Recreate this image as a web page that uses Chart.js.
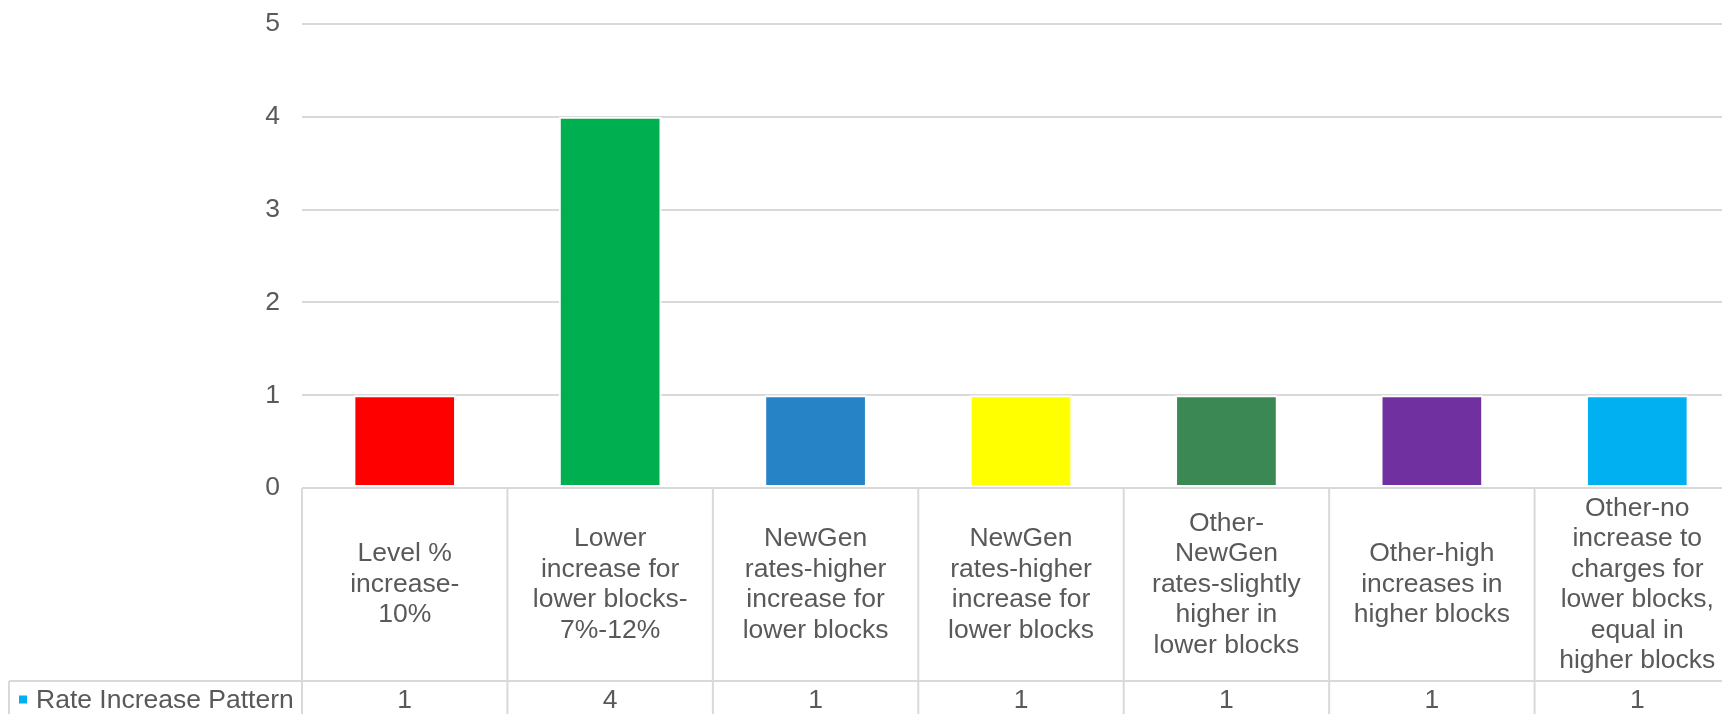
<!DOCTYPE html>
<html>
<head>
<meta charset="utf-8">
<script src="https://cdn.jsdelivr.net/npm/chart.js@4/dist/chart.umd.min.js"></script>
<style>
  html, body { margin: 0; padding: 0; background: #ffffff; overflow: hidden; }
  #wrap { width: 1722px; height: 714px; overflow: hidden; }
  #c { display: block; }
</style>
</head>
<body>
<div id="wrap"><canvas id="c" width="1740" height="714"></canvas></div>
<script>
// Category labels, already broken into the lines shown in each table cell
const categories = [
  ["Level %", "increase-", "10%"],
  ["Lower", "increase for", "lower blocks-", "7%-12%"],
  ["NewGen", "rates-higher", "increase for", "lower blocks"],
  ["NewGen", "rates-higher", "increase for", "lower blocks"],
  ["Other-", "NewGen", "rates-slightly", "higher in", "lower blocks"],
  ["Other-high", "increases in", "higher blocks"],
  ["Other-no", "increase to", "charges for", "lower blocks,", "equal in", "higher blocks"]
];
const seriesName = "Rate Increase Pattern";
const values = [1, 4, 1, 1, 1, 1, 1];
const barColors = ["#FF0000", "#00B050", "#2583C6", "#FFFF00", "#3C8854", "#7030A0", "#00B0F0"];
const legendColor = "#00B0F0";
const yTicks = [0, 1, 2, 3, 4, 5];

const FONT = "'Liberation Sans', Arial, sans-serif";
const TEXT = "#595959";
const LINE = "#D9D9D9";
const FS = 26.5;
const LH = 30.5;

// Data table drawn under the plot, aligned to the category scale
const dataTable = {
  id: "dataTable",
  afterDraw(chart) {
    const ctx = chart.ctx;
    const x = chart.scales.x;
    const area = chart.chartArea;
    const n = categories.length;
    const step = (area.right - area.left) / n;
    const top = area.bottom;
    const rowTop = 681;
    const bottom = chart.height;
    const legendLeft = 9;

    ctx.save();
    ctx.strokeStyle = LINE;
    ctx.lineWidth = 2;
    ctx.beginPath();
    ctx.moveTo(area.left, top); ctx.lineTo(area.right, top);
    ctx.moveTo(legendLeft, rowTop); ctx.lineTo(area.right, rowTop);
    ctx.moveTo(legendLeft, rowTop); ctx.lineTo(legendLeft, bottom);
    for (let i = 0; i <= n; i++) {
      const bx = x.getPixelForValue(i) - step / 2;
      ctx.moveTo(bx, top); ctx.lineTo(bx, bottom);
    }
    ctx.stroke();

    ctx.fillStyle = TEXT;
    ctx.font = FS + "px " + FONT;
    ctx.textAlign = "center";
    ctx.textBaseline = "middle";
    const cellMid = (top + rowTop) / 2;
    const rowMid = (rowTop + bottom) / 2 + 3;
    categories.forEach((lines, i) => {
      const cx = x.getPixelForValue(i);
      const y0 = cellMid - (lines.length - 1) * LH / 2;
      lines.forEach((t, k) => ctx.fillText(t, cx, y0 + k * LH));
      ctx.fillText(String(values[i]), cx, rowMid);
    });

    // series key in the first column of the value row
    ctx.fillStyle = legendColor;
    ctx.fillRect(19, rowMid - 5, 8, 8);
    ctx.fillStyle = TEXT;
    ctx.textAlign = "left";
    ctx.fillText(seriesName, 36, rowMid);
    ctx.restore();
  }
};

new Chart(document.getElementById("c"), {
  type: "bar",
  data: {
    labels: categories.map(l => l.join(" ")),
    datasets: [{
      label: seriesName,
      data: values,
      backgroundColor: barColors,
      borderColor: "#FFFFFF",
      borderWidth: 2,
      borderSkipped: false,
      barPercentage: 1,
      categoryPercentage: 0.5
    }]
  },
  options: {
    responsive: false,
    animation: false,
    layout: { padding: { top: 24, right: 0, bottom: 226, left: 0 } },
    plugins: { legend: { display: false }, tooltip: { enabled: false } },
    scales: {
      x: { display: false },
      y: {
        min: 0, max: 5,
        afterBuildTicks(scale) { scale.ticks = yTicks.map(v => ({ value: v })); },
        afterFit(scale) { scale.width = 302; },
        border: { display: false },
        grid: { color: LINE, lineWidth: 2, drawTicks: true, tickLength: 22, tickColor: "rgba(0,0,0,0)" },
        ticks: { color: TEXT, font: { family: FONT, size: FS }, padding: 0 }
      }
    }
  },
  plugins: [dataTable]
});
</script>
</body>
</html>
